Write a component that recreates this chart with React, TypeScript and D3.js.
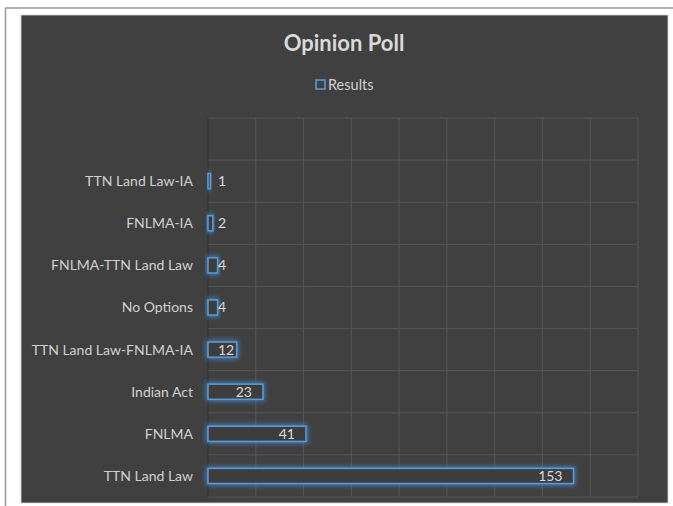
import { useEffect, useRef } from 'react';
import * as d3 from 'd3';

// data, top row to bottom row as shown
const categories = [
  'TTN Land Law-IA',
  'FNLMA-IA',
  'FNLMA-TTN Land Law',
  'No Options',
  'TTN Land Law-FNLMA-IA',
  'Indian Act',
  'FNLMA',
  'TTN Land Law',
];
const results = [1, 2, 4, 4, 12, 23, 41, 153];
const xTicks = [0, 20, 40, 60, 80, 100, 120, 140, 160, 180];

const W = 673;
const H = 506;
const FONT = 'Lato, "Open Sans", sans-serif';

const App = () => {
  const ref = useRef<SVGSVGElement | null>(null);

  useEffect(() => {
    const svg = d3.select(ref.current);
    svg.selectAll('*').remove();

    const left = 208;
    const right = 638;
    const top = 118;
    const bottom = 497;

    const x = d3.scaleLinear().domain([0, 180]).range([left, right]);
    // one empty slot above the first category, like the original
    const y = d3
      .scaleBand<string>()
      .domain(['__empty', ...categories])
      .range([top, bottom]);

    const defs = svg.append('defs');
    const glow = defs
      .append('filter')
      .attr('id', 'glow')
      .attr('x', '-30%')
      .attr('y', '-100%')
      .attr('width', '160%')
      .attr('height', '300%');
    glow
      .append('feMorphology')
      .attr('in', 'SourceAlpha')
      .attr('operator', 'dilate')
      .attr('radius', 1)
      .attr('result', 'fat');
    glow
      .append('feGaussianBlur')
      .attr('in', 'fat')
      .attr('stdDeviation', 2.6)
      .attr('result', 'blur');
    glow
      .append('feFlood')
      .attr('flood-color', '#3f86d0')
      .attr('flood-opacity', 0.9);
    glow.append('feComposite').attr('in2', 'blur').attr('operator', 'in').attr('result', 'glowColor');
    const merge = glow.append('feMerge');
    merge.append('feMergeNode').attr('in', 'glowColor');
    merge.append('feMergeNode').attr('in', 'SourceGraphic');

    // page frame
    svg.append('rect').attr('width', W).attr('height', H).attr('fill', '#ffffff');
    svg
      .append('line')
      .attr('x1', 5).attr('x2', W).attr('y1', 8).attr('y2', 8)
      .attr('stroke', '#9a9a9a').attr('stroke-width', 1.5);
    svg
      .append('line')
      .attr('x1', 5.5).attr('x2', 5.5).attr('y1', 8).attr('y2', H)
      .attr('stroke', '#9a9a9a').attr('stroke-width', 1.5);

    // chart area
    svg
      .append('rect')
      .attr('x', 21).attr('y', 15).attr('width', 647).attr('height', 488)
      .attr('fill', '#404040')
      .attr('stroke', '#d8d8d8').attr('stroke-width', 0.8);

    // title and legend
    svg
      .append('text')
      .attr('x', 344).attr('y', 51)
      .attr('text-anchor', 'middle')
      .attr('font-family', FONT).attr('font-weight', 700).attr('font-size', 22)
      .attr('fill', '#d9d9d9')
      .text('Opinion Poll');
    svg
      .append('rect')
      .attr('x', 316).attr('y', 80).attr('width', 9).attr('height', 9)
      .attr('fill', '#404040').attr('stroke', '#5b9bd5').attr('stroke-width', 1.5);
    svg
      .append('text')
      .attr('x', 328).attr('y', 90)
      .attr('font-family', FONT).attr('font-size', 14.5)
      .attr('fill', '#d0d0d0')
      .text('Results');

    // grid
    const grid = svg.append('g');
    grid
      .selectAll('line.v')
      .data(xTicks)
      .join('line')
      .attr('x1', d => x(d)).attr('x2', d => x(d))
      .attr('y1', top).attr('y2', bottom)
      .attr('stroke', d => (d === 0 ? '#2e2e2e' : '#565656'))
      .attr('stroke-width', 1);
    const bands = [...y.domain().map(d => y(d) as number), bottom];
    grid
      .selectAll('line.h')
      .data(bands)
      .join('line')
      .attr('x1', left).attr('x2', right)
      .attr('y1', d => d).attr('y2', d => d)
      .attr('stroke', '#565656')
      .attr('stroke-width', 1);

    // category labels
    svg
      .append('g')
      .selectAll('text')
      .data(categories)
      .join('text')
      .attr('x', 193)
      .attr('y', d => (y(d) as number) + y.bandwidth() / 2)
      .attr('dy', '0.35em')
      .attr('text-anchor', 'end')
      .attr('font-family', FONT).attr('font-size', 14)
      .attr('fill', '#d0d0d0')
      .text(d => d);

    // bars
    const barH = y.bandwidth() * 0.36;
    svg
      .append('g')
      .selectAll('rect')
      .data(results)
      .join('rect')
      .attr('x', x(0))
      .attr('y', (d, i) => (y(categories[i]) as number) + (y.bandwidth() - barH) / 2)
      .attr('width', d => x(d) - x(0))
      .attr('height', barH)
      .attr('fill', '#3c3c3c')
      .attr('stroke', '#5b9bd5')
      .attr('stroke-width', 1.5)
      .attr('filter', 'url(#glow)');

    // value labels at the inside end, pushed right when the bar is too short
    const labels = svg
      .append('g')
      .selectAll('text')
      .data(results)
      .join('text')
      .attr('y', (d, i) => (y(categories[i]) as number) + y.bandwidth() / 2)
      .attr('dy', '0.35em')
      .attr('font-family', FONT).attr('font-size', 14)
      .attr('fill', '#d9d9d9')
      .text(d => d);
    labels.each(function (d) {
      const node = this as SVGTextElement;
      const w = node.getComputedTextLength();
      const start = Math.max(x(d) - 11 - w, x(0) + 10);
      d3.select(node).attr('x', start);
    });
  }, []);

  return (
    <svg
      ref={ref}
      width={W}
      height={H}
      style={{ position: 'absolute', left: 0, top: 0 }}
    />
  );
};

export default App;
